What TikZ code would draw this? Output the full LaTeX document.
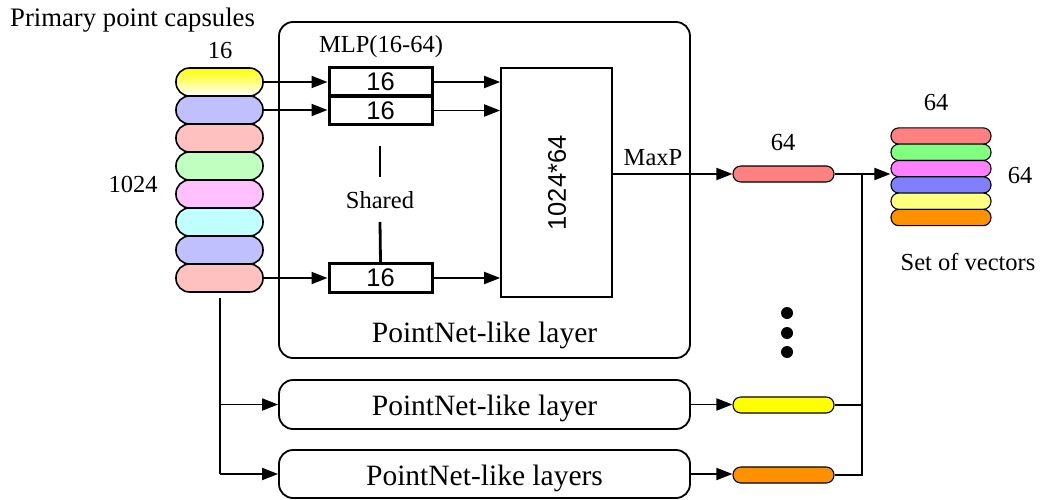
\documentclass[tikz,border=0pt]{standalone}
\usepackage{fontspec}
\setmainfont{Liberation Serif}
\newfontfamily\helv{Liberation Sans}
\usetikzlibrary{arrows.meta}
\definecolor{cblue}{HTML}{C0C0FF}
\definecolor{cpink}{HTML}{FFC0C0}
\definecolor{cgreen}{HTML}{C0FFC0}
\definecolor{cmag}{HTML}{FFC0FF}
\definecolor{ccyan}{HTML}{C0FFFF}
\definecolor{sred}{HTML}{FF8080}
\definecolor{sgreen}{HTML}{80FF80}
\definecolor{smag}{HTML}{FF80FF}
\definecolor{sblue}{HTML}{8080FF}
\definecolor{syel}{HTML}{FFFF80}
\definecolor{sorange}{HTML}{FF9000}
\definecolor{yel}{HTML}{FFFF00}
\tikzset{
  capsule/.style={draw, line width=1.6, rounded corners=13.5, minimum width=87, minimum height=28, inner sep=0},
  vecbar/.style={draw, line width=1.1, rounded corners=7.8, minimum width=100, minimum height=16.3, inner sep=0},
  outbar/.style={draw, line width=1.1, rounded corners=7.8, minimum width=101, minimum height=16, inner sep=0},
  mlpbox/.style={draw, line width=3, minimum width=103, minimum height=29, inner sep=0, font=\helv\fontsize{25.5}{30}\selectfont},
  layerbox/.style={draw, line width=1.8, rounded corners=14},
  arr/.style={line width=1.8, -{Triangle[length=16,width=12]}},
  ln/.style={line width=1.8},
  smtext/.style={font=\fontsize{24.5}{29}\selectfont, inner sep=0, anchor=base},
  bigtext/.style={font=\fontsize{29.5}{34}\selectfont, inner sep=0, anchor=base},
}
\begin{document}
\begin{tikzpicture}[x=1pt,y=-1pt]
\useasboundingbox (0,0) rectangle (1054,500);
% titles
\node[font=\fontsize{26.7}{31}\selectfont, inner sep=0, anchor=base west] (title) at (10,27) {Primary point capsules};
\node[smtext] (l16) at (220,59) {16};
\node[smtext] (l1024) at (133,192) {1024};
% capsules
\node[capsule, top color=yel, bottom color=white] (c1) at (219.5,82) {};
\node[capsule, fill=cblue] (c2) at (219.5,110) {};
\node[capsule, fill=cpink] (c3) at (219.5,138) {};
\node[capsule, fill=cgreen] (c4) at (219.5,166) {};
\node[capsule, fill=cmag] (c5) at (219.5,194) {};
\node[capsule, fill=ccyan] (c6) at (219.5,222) {};
\node[capsule, fill=cblue] (c7) at (219.5,250) {};
\node[capsule, fill=cpink] (c8) at (219.5,278) {};
% big box
\node[layerbox, minimum width=411, minimum height=336, inner sep=0] (bigbox) at (484.5,190) {};
\node[bigtext] (bigl) at (484.5,342) {PointNet-like layer};
\node[smtext] (mlpl) at (381,53) {MLP(16-64)};
\node[mlpbox] (m1) at (380.5,82) {16};
\node[mlpbox] (m2) at (380.5,110.5) {16};
\node[mlpbox] (m3) at (380.5,278) {16};
\node[smtext] (shared) at (380,208) {Shared};
\coordinate (sh1) at (380,146);
\coordinate (sh2) at (380,177);
\coordinate (sh3) at (380,222);
\draw[line width=2.8] (sh1) -- (sh2);
\draw[line width=2.8] (sh3) -- (m3.north);
\node[draw, line width=1.6, minimum width=111, minimum height=229, inner sep=0] (inner) at (556.5,182.5) {};
\node[font=\helv\fontsize{25.5}{30}\selectfont, rotate=90, inner sep=0] (innerl) at (557,183) {1024*64};
% arrows into MLP
\draw[arr] (c1.east) -- (c1.east -| m1.west);
\draw[arr] (c2.east) -- (c2.east -| m2.west);
\draw[arr] (c8.east) -- (c8.east -| m3.west);
\draw[arr] (m1.east) -- (m1.east -| inner.west);
\draw[arr] (m2.east) -- (m2.east -| inner.west);
\draw[arr] (m3.east) -- (m3.east -| inner.west);
% max pooling
\node[outbar, fill=sred] (b1) at (783.5,174) {};
\node[smtext] (maxp) at (653,165) {MaxP};
\node[smtext] (l64a) at (783,150) {64};
\draw[arr] (b1.west -| inner.east) -- (b1.west);
% set of vectors
\node[vecbar, fill=sred] (s1) at (941,136) {};
\node[vecbar, fill=sgreen] (s2) at (941,152.3) {};
\node[vecbar, fill=smag] (s3) at (941,168.6) {};
\node[vecbar, fill=sblue] (s4) at (941,184.9) {};
\node[vecbar, fill=syel] (s5) at (941,201.2) {};
\node[vecbar, fill=sorange] (s6) at (941,217.5) {};
\node[smtext] (l64b) at (936,111) {64};
\node[smtext] (l64c) at (1020,183) {64};
\node[smtext] (setl) at (968,270) {Set of vectors};
% lower boxes
\node[layerbox, minimum width=411, minimum height=49, inner sep=0] (box2) at (484.5,404.5) {};
\node[bigtext] (box2l) at (484.5,415) {PointNet-like layer};
\node[layerbox, minimum width=411, minimum height=48, inner sep=0] (box3) at (484.5,474) {};
\node[bigtext] (box3l) at (484.5,485) {PointNet-like layers};
\node[outbar, fill=yel] (b2) at (783.5,405) {};
\node[outbar, fill=sorange] (b3) at (783.5,475) {};
\draw[arr] (box2.east) -- (box2.east -| b2.west);
\draw[arr] (box3.east) -- (box3.east -| b3.west);
% left branch
\coordinate (lt) at (220,298);
\draw[ln] (lt) -- (lt |- box3.west);
\draw[arr] (lt |- box2.west) -- (box2.west);
\draw[arr] (lt |- box3.west) -- (box3.west);
% right collector
\coordinate (j) at (862,174);
\draw[ln] (b1.east) -- (j);
\draw[arr] (j) -- (j -| s3.west);
\draw[ln] (b2.east) -- (b2.east -| j) -- (j);
\draw[ln] (b3.east) -- (b3.east -| j) -- (b2.east -| j);
% dots
\fill (787,313) circle (6);
\fill (787,333) circle (6);
\fill (787,352) circle (6);
\end{tikzpicture}
\end{document}
